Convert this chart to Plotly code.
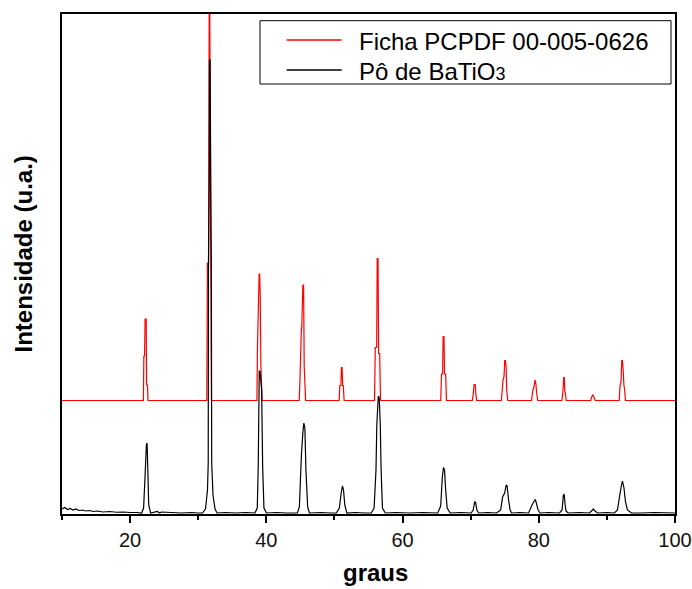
import plotly.graph_objects as go

# ---------------- data ----------------
x_ticks = [20, 40, 60, 80, 100]
x_minor = [10, 30, 50, 70, 90]
series_names = ["Ficha PCPDF 00-005-0626", "Pô de BaTiO<span style='font-size:18px'>3</span>"]
x_title = "graus"
y_title = "Intensidade (u.a.)"

# Reference card pattern (offset upward in the figure)
red_angle = [10.0,
             21.95, 22.02, 22.12, 22.20, 22.36, 22.42, 22.55, 22.62,
             31.26, 31.35, 31.51, 31.61, 31.70, 31.80, 31.86, 31.94,
             38.62, 38.70, 38.95, 39.02, 39.10, 39.20, 39.38,
             44.82, 44.93, 45.15, 45.20, 45.37, 45.47, 45.56, 45.70, 45.76,
             50.69, 50.79, 50.95, 51.02, 51.12, 51.20, 51.30, 51.42,
             55.88, 56.00, 56.20, 56.28, 56.40, 56.48, 56.64, 56.76,
             65.60, 65.72, 65.88, 65.96, 66.08, 66.16, 66.33, 66.44,
             70.25, 70.38, 70.50, 70.66, 70.76, 70.88,
             74.50, 74.62, 74.75, 74.90, 75.00, 75.10, 75.20, 75.30, 75.45,
             78.94, 79.10, 79.30, 79.45, 79.58, 79.68, 79.85,
             83.40, 83.55, 83.66, 83.74, 83.82, 83.92, 84.02,
             87.62, 87.80, 87.93, 88.10, 88.30,
             91.80, 91.93, 92.08, 92.18, 92.28, 92.38, 92.50, 92.60, 92.72,
             100.0]
red_intensity = [22.7,
                 22.7, 31.6, 31.6, 39.0, 39.0, 25.8, 25.8, 22.7,
                 22.7, 50.2, 50.2, 100.5, 100.5, 63.6, 47.4, 22.7,
                 22.7, 33.6, 48.0, 48.0, 43.8, 30.0, 22.7,
                 22.7, 26.5, 37.2, 37.2, 45.8, 45.8, 29.5, 25.0, 22.7,
                 22.7, 25.7, 25.7, 29.3, 29.3, 25.7, 25.7, 22.7,
                 22.7, 33.3, 33.3, 51.1, 51.1, 32.1, 32.1, 22.7,
                 22.7, 28.0, 28.0, 35.5, 35.5, 28.0, 28.0, 22.7,
                 22.7, 24.0, 25.9, 25.9, 24.0, 22.7,
                 22.7, 24.5, 26.8, 27.5, 30.7, 30.7, 29.5, 24.5, 22.7,
                 22.7, 24.5, 25.5, 26.8, 26.0, 24.3, 22.7,
                 22.7, 24.5, 27.3, 27.3, 24.5, 24.0, 22.7,
                 22.7, 23.5, 23.8, 23.4, 22.7,
                 22.7, 25.7, 26.5, 30.7, 30.7, 29.0, 25.7, 25.0, 22.7,
                 22.7]

# Measured BaTiO3 powder pattern
black_angle = [10.0, 10.4, 10.8, 11.2, 11.6, 12.0, 12.5, 13.0, 13.5, 14.0, 14.6, 15.2, 16.0, 17.0, 18.0, 19.0, 20.0, 21.0,
               21.69, 21.98, 22.20, 22.39, 22.49, 22.60, 22.73, 23.01,
               24.0, 24.3, 24.6, 26.0, 27.5, 29.0, 30.0,
               30.63, 31.07, 31.36, 31.47, 31.50, 31.63, 31.65, 31.74, 31.93, 31.98, 32.17, 32.47, 32.76,
               34.0, 35.5, 37.0,
               38.33, 38.67, 38.81, 38.96, 39.06, 39.31, 39.46, 39.65, 40.01,
               41.5, 43.0,
               44.56, 44.85, 45.15, 45.37, 45.51, 45.66, 45.81, 46.07, 46.32,
               48.0, 49.5,
               50.28, 50.72, 51.01, 51.18, 51.33, 51.52, 51.82,
               53.0, 54.5,
               55.41, 55.82, 56.10, 56.22, 56.44, 56.58, 56.73, 56.85, 57.05, 57.46,
               59.0, 61.0, 63.0,
               65.16, 65.60, 65.84, 66.01, 66.16, 66.33, 66.55, 66.99,
               68.5,
               70.07, 70.37, 70.59, 70.73, 70.91, 71.17,
               72.5,
               73.81, 74.40, 74.69, 74.99, 75.21, 75.35, 75.57, 75.79, 76.01,
               77.3,
               78.50, 78.94, 79.24, 79.49, 79.68, 79.90, 80.19,
               81.5,
               83.05, 83.42, 83.61, 83.73, 83.87, 84.00, 84.30,
               86.0,
               87.45, 87.82, 87.99, 88.18, 88.62,
               90.0,
               91.11, 91.55, 91.85, 92.14, 92.29, 92.51, 92.73, 93.02, 93.61,
               95.0, 97.0, 100.0]
black_intensity = [1.0, 1.3, 0.9, 1.1, 0.8, 1.0, 0.7, 0.8, 0.6, 0.7, 0.5, 0.6, 0.4, 0.5, 0.35, 0.4, 0.3, 0.3,
                   0.2, 1.2, 7.8, 13.8, 14.2, 8.8, 1.8, 0.2,
                   0.5, 0.2, 0.4, 0.3, 0.2, 0.3, 0.2,
                   0.2, 1.0, 4.8, 10.2, 47.6, 69.2, 90.8, 90.8, 47.6, 10.2, 3.8, 1.0, 0.2,
                   0.3, 0.2, 0.3,
                   0.2, 1.2, 9.4, 28.6, 28.6, 24.8, 9.4, 1.2, 0.2,
                   0.3, 0.2,
                   0.2, 1.4, 11.8, 16.4, 18.2, 17.2, 8.8, 1.4, 0.2,
                   0.3, 0.2,
                   0.2, 1.2, 4.4, 5.6, 4.8, 1.8, 0.2,
                   0.3, 0.2,
                   0.2, 1.2, 8.8, 17.8, 23.6, 23.2, 17.8, 8.8, 1.2, 0.2,
                   0.3, 0.2, 0.3,
                   0.2, 1.6, 7.4, 9.3, 8.8, 4.8, 1.2, 0.2,
                   0.3,
                   0.2, 0.8, 2.4, 2.3, 0.8, 0.2,
                   0.3,
                   0.2, 0.8, 3.4, 4.2, 5.8, 5.6, 2.8, 0.8, 0.2,
                   0.3,
                   0.2, 1.6, 2.4, 2.9, 2.0, 0.8, 0.2,
                   0.3,
                   0.2, 0.8, 3.8, 3.9, 1.8, 0.6, 0.2,
                   0.3,
                   0.2, 0.7, 1.0, 0.7, 0.2,
                   0.3,
                   0.2, 0.8, 3.4, 5.8, 6.6, 5.2, 2.4, 0.8, 0.2,
                   0.2, 0.3, 0.2]

series_colors = ["#ff0000", "#000000"]

# ---------------- figure ----------------
FONT = "Liberation Sans, Arial, sans-serif"

fig = go.Figure()
fig.add_trace(go.Scatter(x=red_angle, y=red_intensity, mode="lines", name=series_names[0],
                         line=dict(color=series_colors[0], width=1.2, simplify=False), showlegend=False))
fig.add_trace(go.Scatter(x=black_angle, y=black_intensity, mode="lines", name=series_names[1],
                         line=dict(color=series_colors[1], width=1.2, simplify=False), showlegend=False))

fig.update_layout(
    width=692, height=589,
    margin=dict(l=62, r=17, t=14, b=75, autoexpand=False),
    plot_bgcolor="white", paper_bgcolor="white",
    font=dict(family=FONT, color="black"),
    showlegend=False,
    xaxis=dict(range=[10, 100], tickmode="array", tickvals=x_ticks, automargin=False,
               ticks="outside", ticklen=7, tickwidth=2, tickcolor="black",
               showline=True, linewidth=2, linecolor="black", mirror=True,
               showgrid=False, zeroline=False,
               tickfont=dict(size=20, family=FONT, color="#111"),
               minor=dict(tickmode="array", tickvals=x_minor, ticks="outside",
                          ticklen=4, tickwidth=2, tickcolor="black")),
    yaxis=dict(range=[0, 100], showticklabels=False, ticks="", automargin=False,
               showline=True, linewidth=2, linecolor="black", mirror=True,
               showgrid=False, zeroline=False),
)

# axis titles
fig.add_annotation(text=f"<b>{x_title}</b>", xref="paper", yref="paper", x=0.512, y=-0.118,
                   xanchor="center", yanchor="middle", showarrow=False,
                   font=dict(size=24, family=FONT, color="black"))
fig.add_annotation(text=f"<b>{y_title}</b>", xref="paper", yref="paper", x=-0.0636, y=0.519,
                   xanchor="center", yanchor="middle", textangle=-90, showarrow=False,
                   font=dict(size=24, family=FONT, color="black"))

# legend box (drawn by hand to match the original layout)
fig.add_shape(type="rect", xref="paper", yref="paper", x0=0.323, x1=0.9935, y0=0.86, y1=0.9866,
              line=dict(color="black", width=1), fillcolor="white", layer="above")
legend_rows_y = [0.948, 0.888]
for name, color, ly in zip(series_names, series_colors, legend_rows_y):
    fig.add_shape(type="line", xref="paper", yref="paper", x0=0.3666, x1=0.4563, y0=ly, y1=ly,
                  line=dict(color=color, width=1.5), layer="above")
    fig.add_annotation(text=name, xref="paper", yref="paper", x=0.4807, y=ly - 0.002,
                       xanchor="left", yanchor="middle", showarrow=False,
                       font=dict(size=24, family=FONT, color="black"))

fig.write_html("out.html")
